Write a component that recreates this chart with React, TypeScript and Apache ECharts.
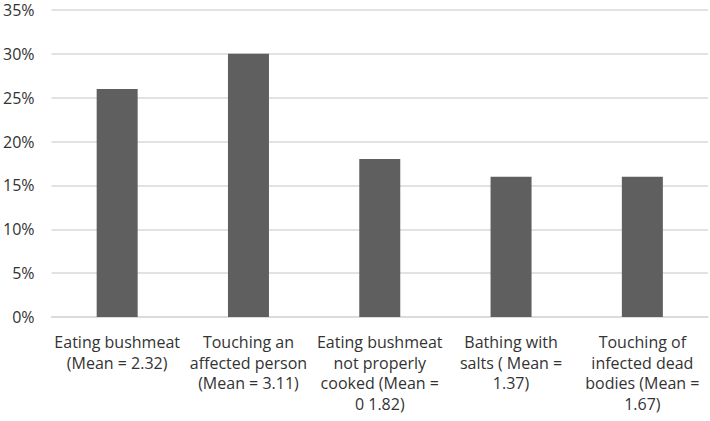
import React, { useEffect, useRef } from "react";
import * as echarts from "echarts";

const categories = [
  "Eating bushmeat\n(Mean = 2.32)",
  "Touching an\naffected person\n(Mean = 3.11)",
  "Eating bushmeat\nnot properly\ncooked (Mean =\n0 1.82)",
  "Bathing with\nsalts ( Mean =\n1.37)",
  "Touching of\ninfected dead\nbodies (Mean =\n1.67)",
];
const values = [26, 30, 18, 16, 16];
const yMin = 0;
const yMax = 35;
const yStep = 5;

export default function App() {
  const ref = useRef<HTMLDivElement>(null);
  useEffect(() => {
    if (!ref.current) return;
    const chart = echarts.init(ref.current, undefined, { renderer: "svg" });
    chart.setOption({
      animation: false,
      backgroundColor: "#ffffff",
      grid: { left: 49, right: 2, top: 10, bottom: 104, containLabel: false },
      xAxis: {
        type: "category",
        data: categories,
        axisLine: { show: true, lineStyle: { color: "#d9d9d9", width: 1.5 } },
        axisTick: { show: false },
        axisLabel: {
          interval: 0,
          color: "#333333",
          fontFamily: "Open Sans",
          fontSize: 16,
          lineHeight: 20.5,
          margin: 15,
          align: "center",
          verticalAlign: "top",
        },
      },
      yAxis: {
        type: "value",
        min: yMin,
        max: yMax,
        interval: yStep,
        axisLine: { show: false },
        axisTick: { show: false },
        splitLine: { lineStyle: { color: "#d9d9d9", width: 1.5 } },
        axisLabel: {
          formatter: "{value}%",
          color: "#333333",
          fontFamily: "Open Sans",
          fontSize: 16,
          margin: 17,
        },
      },
      series: [
        {
          type: "bar",
          data: values,
          barWidth: 41,
          itemStyle: { color: "#5f5f5f" },
        },
      ],
    });
    return () => chart.dispose();
  }, []);
  return (
    <div
      ref={ref}
      style={{ position: "fixed", left: 0, top: 0, width: 710, height: 421 }}
    />
  );
}
